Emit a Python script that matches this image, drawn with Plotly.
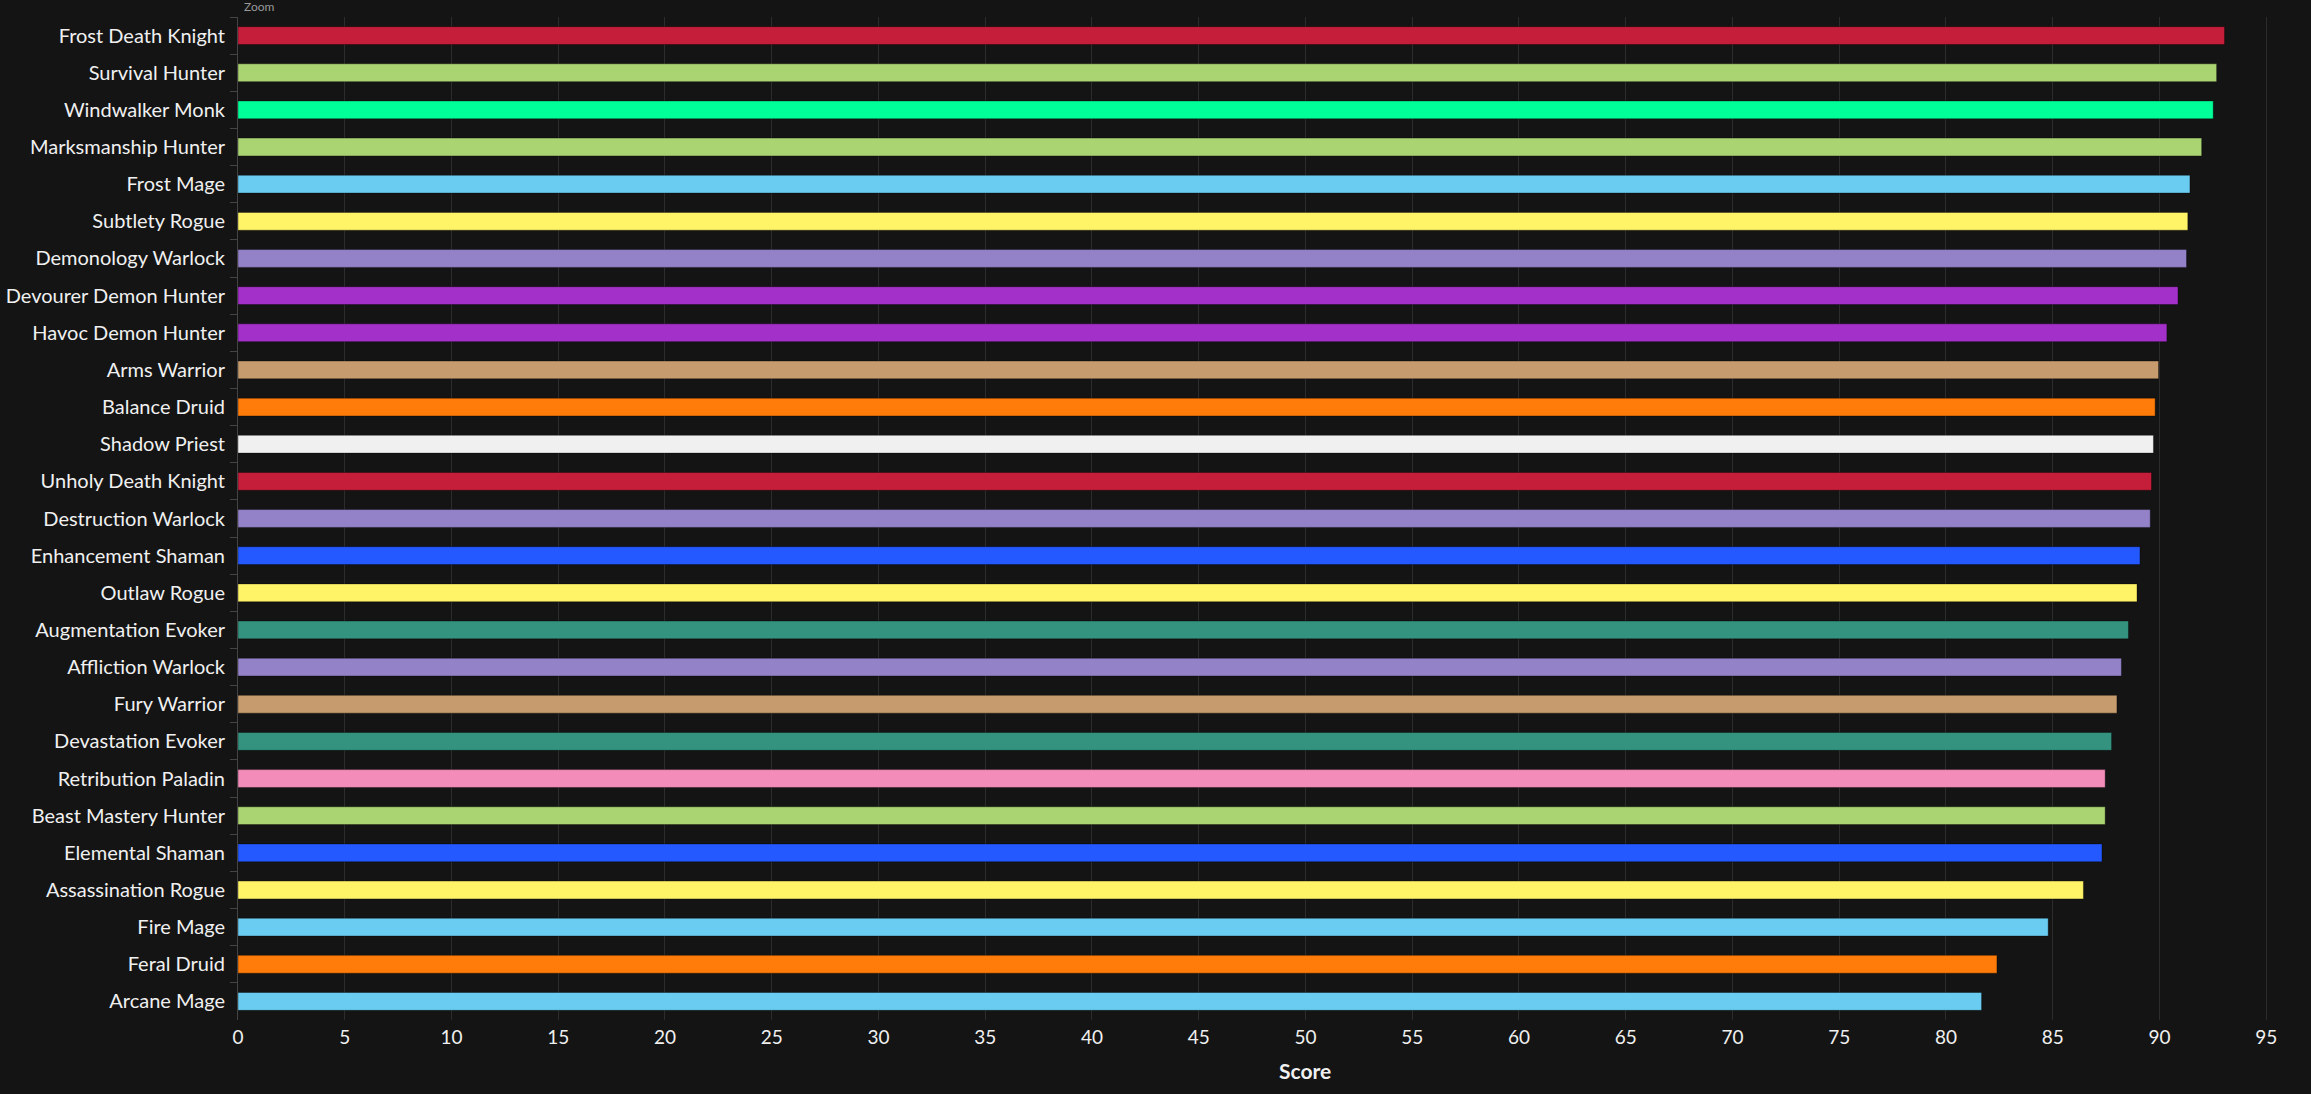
import plotly.graph_objects as go

# spec names, top to bottom
specs = [
    "Frost Death Knight", "Survival Hunter", "Windwalker Monk", "Marksmanship Hunter",
    "Frost Mage", "Subtlety Rogue", "Demonology Warlock", "Devourer Demon Hunter",
    "Havoc Demon Hunter", "Arms Warrior", "Balance Druid", "Shadow Priest",
    "Unholy Death Knight", "Destruction Warlock", "Enhancement Shaman", "Outlaw Rogue",
    "Augmentation Evoker", "Affliction Warlock", "Fury Warrior", "Devastation Evoker",
    "Retribution Paladin", "Beast Mastery Hunter", "Elemental Shaman", "Assassination Rogue",
    "Fire Mage", "Feral Druid", "Arcane Mage",
]

scores = [
    93.05, 92.68, 92.52, 91.98,
    91.43, 91.33, 91.27, 90.87,
    90.35, 89.96, 89.80, 89.72,
    89.63, 89.57, 89.09, 88.95,
    88.55, 88.22, 88.01, 87.76,
    87.46, 87.46, 87.31, 86.44,
    84.79, 82.39, 81.67,
]

# class of each spec -> class colour
spec_class = [
    "Death Knight", "Hunter", "Monk", "Hunter",
    "Mage", "Rogue", "Warlock", "Demon Hunter",
    "Demon Hunter", "Warrior", "Druid", "Priest",
    "Death Knight", "Warlock", "Shaman", "Rogue",
    "Evoker", "Warlock", "Warrior", "Evoker",
    "Paladin", "Hunter", "Shaman", "Rogue",
    "Mage", "Druid", "Mage",
]

class_colors = {
    "Death Knight": "#C41E3A",
    "Hunter": "#AAD372",
    "Monk": "#00FF98",
    "Mage": "#69CCF0",
    "Rogue": "#FFF468",
    "Warlock": "#9482C9",
    "Demon Hunter": "#A330C9",
    "Warrior": "#C69B6D",
    "Druid": "#FF7C0A",
    "Priest": "#F0F0F0",
    "Shaman": "#2459FF",
    "Evoker": "#33937F",
    "Paladin": "#F48CBA",
}

bar_colors = [class_colors[c] for c in spec_class]

fig = go.Figure()
fig.add_trace(go.Bar(
    x=scores,
    y=specs,
    orientation='h',
    marker=dict(color=bar_colors, line=dict(color='rgba(0,0,0,0.35)', width=1)),
    hovertemplate='%{y}: %{x:.2f}<extra></extra>',
))

font_family = "Lato, 'Open Sans', sans-serif"

fig.update_layout(
    width=2311,
    height=1094,
    margin=dict(l=238, r=0, t=17, b=74),
    paper_bgcolor='#141414',
    plot_bgcolor='#141414',
    bargap=0.52,
    showlegend=False,
    font=dict(family=font_family, size=18, color='#f0f0f0'),
    xaxis=dict(
        range=[0, 97.1],
        dtick=5,
        tick0=0,
        showgrid=True,
        gridcolor='#2c2c2c',
        gridwidth=1,
        zeroline=False,
        showline=False,
        ticks='',
        ticklabelstandoff=4,
        tickfont=dict(size=19, color='#f0f0f0'),
    ),
    yaxis=dict(
        autorange='reversed',
        showgrid=False,
        showline=True,
        linecolor='#444444',
        linewidth=1,
        ticks='outside',
        tickson='boundaries',
        ticklen=7,
        tickcolor='#444444',
        ticklabelstandoff=8,
        tickfont=dict(size=20, color='#f0f0f0'),
    ),
    annotations=[
        dict(
            text='<b>Score</b>', xref='paper', yref='paper',
            x=(1305 - 238) / (2311 - 238), y=-0.05,
            xanchor='center', yanchor='middle', showarrow=False,
            font=dict(size=21, color='#f0f0f0'),
        ),
        dict(
            text='Zoom', xref='paper', yref='paper',
            x=(242 - 238) / (2311 - 238), y=1.001,
            xanchor='left', yanchor='bottom', showarrow=False,
            font=dict(size=12, color='#999999'),
        ),
    ],
)

# drop the default page margin so the figure fills the window exactly
fig.write_html(
    "out.html",
    config={'displayModeBar': False},
    post_script="document.body.style.margin='0';document.body.style.overflow='hidden';",
)
